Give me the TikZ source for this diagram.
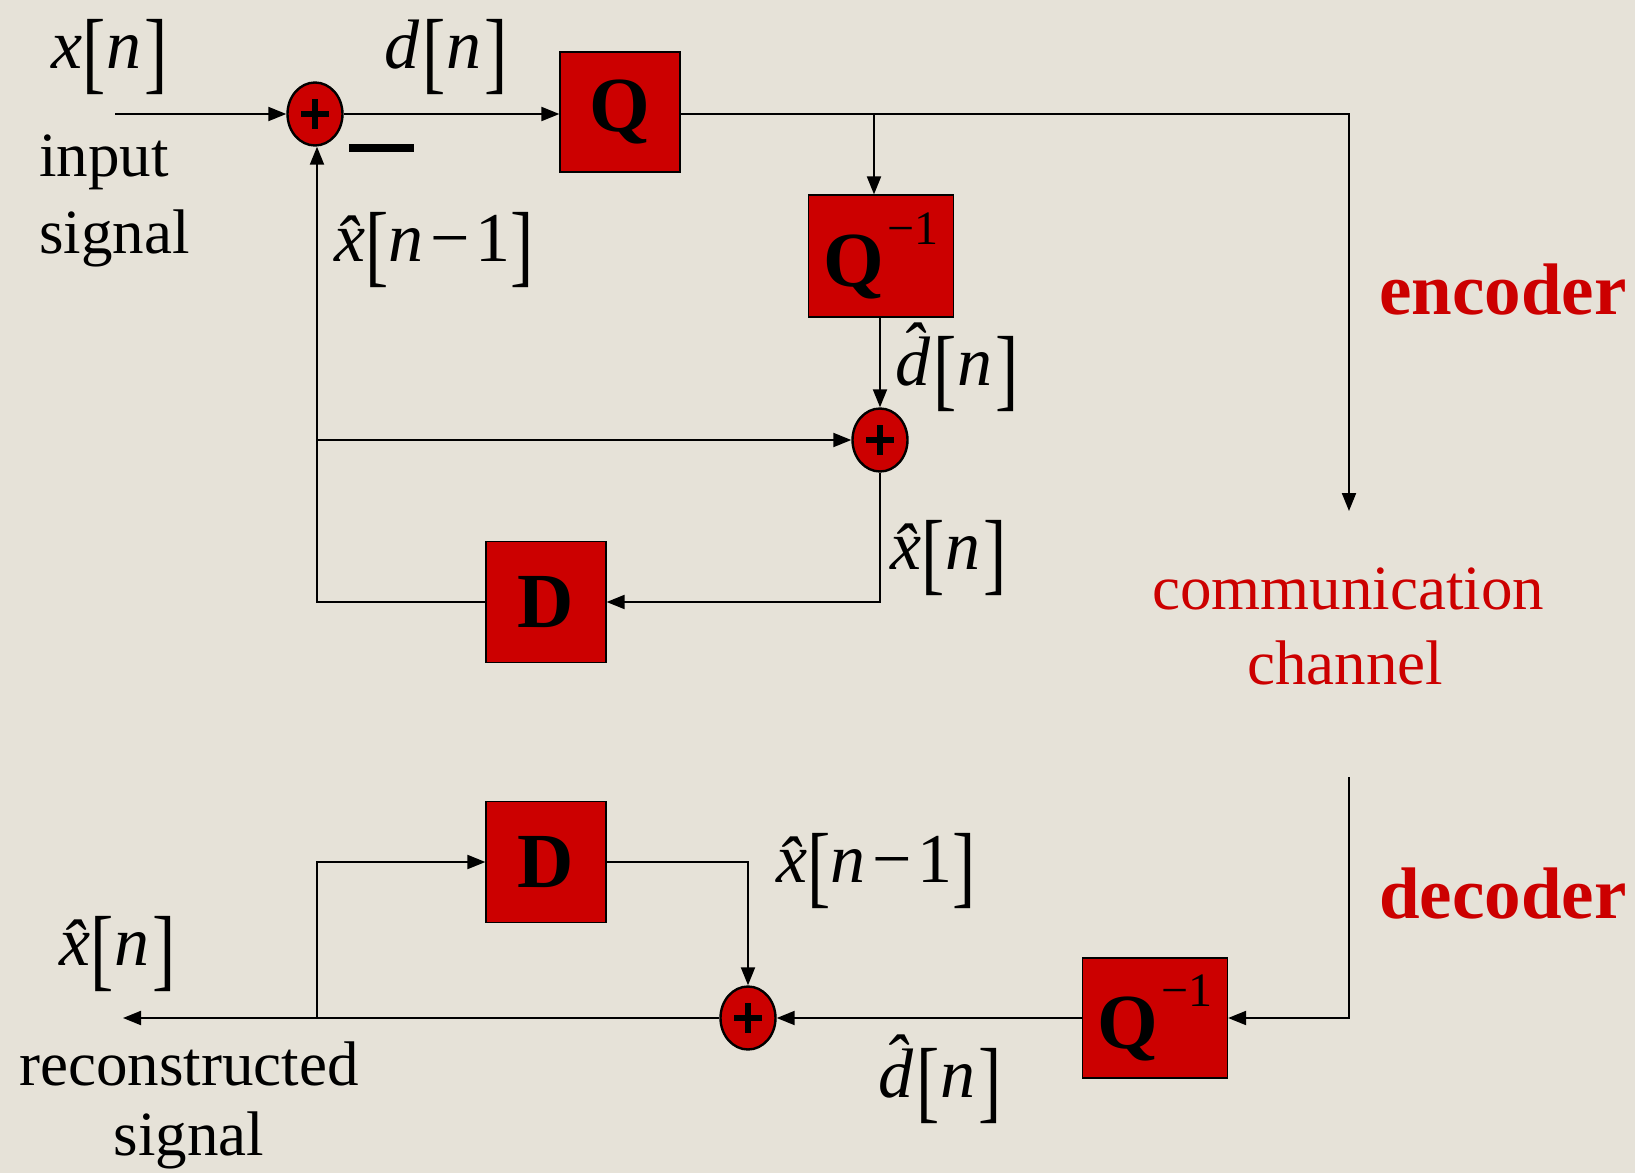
\documentclass[tikz,border=0pt]{standalone}
\usepackage{fontspec}
\setmainfont{Liberation Serif}
\usetikzlibrary{shapes.geometric,arrows.meta}
\definecolor{bgc}{HTML}{E6E2D8}
\definecolor{redbox}{HTML}{CC0000}
\newcommand\brL{\raisebox{-0.2em}{\scalebox{1}[1.3]{[}}}
\newcommand\brR{\raisebox{-0.2em}{\scalebox{1}[1.3]{]}}}
\newcommand\mi[1]{{\itshape #1}}
\newcommand\mm{\kern0.1em−\kern0.08em}
\newcommand\Qinv{Q\kern0.04em\raisebox{0.55em}{\fontsize{24}{26}\selectfont\mdseries −1}}
\tikzset{
  conn/.style={line width=1pt,-{Triangle[length=9pt,width=7pt]}},
  plain/.style={line width=1pt},
  plusbar/.style={line width=2.6pt,line cap=butt},
  blk/.style={draw=black,line width=0.6pt,fill=redbox,inner sep=0pt,font=\fontsize{39}{44}\selectfont\bfseries},
  adder/.style={ellipse,draw=black,line width=1.2pt,fill=redbox,minimum width=27.5pt,minimum height=31.5pt,inner sep=0pt},
  mlab/.style={inner sep=0pt,font=\fontsize{35}{40}\selectfont},
  tlab/.style={inner sep=0pt,font=\fontsize{31.5}{38}\selectfont},
  rlab/.style={inner sep=0pt,text=redbox,font=\fontsize{31.5}{38}\selectfont},
  rblab/.style={inner sep=0pt,text=redbox,font=\fontsize{36.5}{40}\selectfont\bfseries},
}
\begin{document}
\begin{tikzpicture}[x=0.5pt,y=-0.5pt]
\fill[bgc] (0,0) rectangle (1635,1173);
\useasboundingbox (0,0) rectangle (1635,1173);
% encoder blocks
\node[adder] (A1) at (315,114) {};
\node[blk,minimum width=60pt,minimum height=60pt] (Q) at (620,112) {Q};
\node[blk,minimum width=72.5pt,minimum height=61pt] (Qi) at (881,256) {\Qinv};
\node[adder] (A2) at (880,440) {};
\node[blk,minimum width=60pt,minimum height=60.5pt] (D) at (546,602) {D};
% decoder blocks
\node[blk,minimum width=60pt,minimum height=60.5pt] (D2) at (546,862) {D};
\node[adder] (A3) at (748,1018) {};
\node[blk,minimum width=72.5pt,minimum height=60pt] (QiD) at (1155,1018) {\Qinv};
% plus signs
\draw[plusbar] (A1) ++(-14,0) -- ++(28,0);
\draw[plusbar] (A1) ++(0,-15) -- ++(0,30);
\draw[plusbar] (A2) ++(-14,0) -- ++(28,0);
\draw[plusbar] (A2) ++(0,-15) -- ++(0,30);
\draw[plusbar] (A3) ++(-14,0) -- ++(28,0);
\draw[plusbar] (A3) ++(0,-15) -- ++(0,30);
% coordinates
\coordinate (in) at (115,114);
\coordinate (br1) at (874,114);
\coordinate (chT) at (1349,114);
\coordinate (ch1) at (1349,511);
\coordinate (fbL) at (317,598);
\coordinate (j1) at (317,440);
\coordinate (ch2) at (1349,777);
\coordinate (out) at (123,1018);
\coordinate (j2) at (317,1018);
% encoder connectors
\draw[conn] (in) -- (A1.west);
\draw[conn] (A1.east) -- (A1.east -| Q.west);
\draw[conn] (Q.east |- chT) -- (chT) -- (ch1);
\draw[conn] (br1) -- (br1 |- Qi.north);
\draw[conn] (Qi.south -| A2) -- (A2.north);
\draw[conn] (j1) -- (A2.west);
\draw[conn] (A2.south) |- (D.east);
\draw[plain] (D.west) -| (fbL);
\draw[conn] (fbL) -- (fbL |- A1.south);
\fill[black] (349,144) rectangle (414,152);
% decoder connectors
\draw[conn] (ch2) |- (QiD.east);
\draw[conn] (QiD.west) -- (A3.east);
\draw[conn] (A3.west) -- (out);
\draw[conn] (j2) |- (D2.west);
\draw[conn] (D2.east) -| (A3.north);
% labels
\node[mlab] (lxn) at (110,57) {\mi{x}\brL\mi{n}\kern0.05em\brR};
\node[mlab] (ldn) at (446,57) {\mi{d}\kern0.05em\brL\mi{n}\kern0.05em\brR};
\node[mlab] (lxh1) at (434,250) {\mi{\^x}\brL\mi{n}\mm 1\brR};
\node[mlab] (ldh1) at (957,367) {\mi{\^d}\kern0.05em\brL\mi{n}\kern0.05em\brR};
\node[mlab] (lxh2) at (949,558) {\mi{\^x}\brL\mi{n}\kern0.05em\brR};
\node[mlab] (lxh3) at (876,871) {\mi{\^x}\brL\mi{n}\mm 1\brR};
\node[mlab] (lxh4) at (118,954) {\mi{\^x}\brL\mi{n}\kern0.05em\brR};
\node[mlab] (ldh2) at (940,1079) {\mi{\^d}\kern0.05em\brL\mi{n}\kern0.05em\brR};
\node[tlab,anchor=west] (linput) at (39,162) {input};
\node[tlab,anchor=west] (lsignal) at (39,238) {signal};
\node[tlab] (lrec) at (189,1064) {reconstructed};
\node[tlab] (lsig2) at (189,1140) {signal};
\node[rblab] (lenc) at (1503,290) {encoder};
\node[rblab] (ldec) at (1503,894) {decoder};
\node[rlab] (lcom) at (1348,589) {communication};
\node[rlab] (lchan) at (1345,663) {channel};
\end{tikzpicture}
\end{document}
